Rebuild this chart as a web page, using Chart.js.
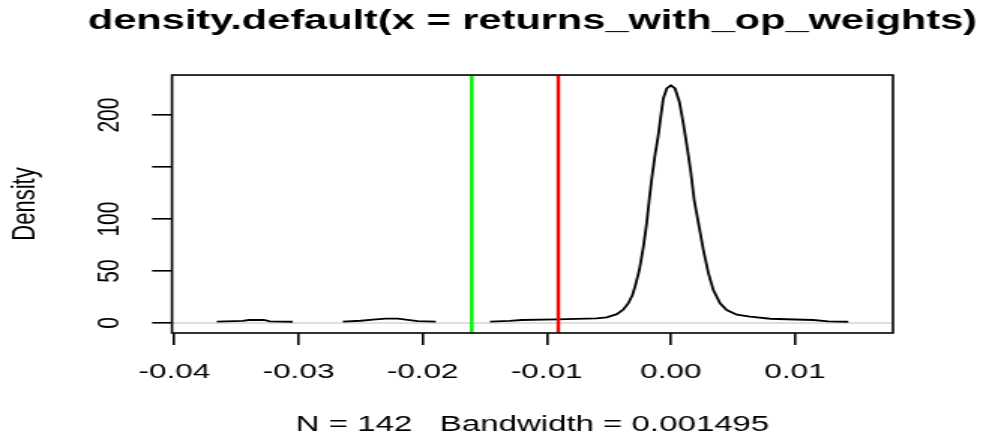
<!DOCTYPE html>
<html>
<head>
<meta charset="utf-8">
<title>density.default(x = returns_with_op_weights)</title>
<script src="https://cdn.jsdelivr.net/npm/chart.js@4"></script>
<style>
  html, body { margin: 0; padding: 0; background: #fff; }
</style>
</head>
<body>
<!-- the source image is stretched ~1.5x sideways, so the canvas is drawn narrow and widened by css -->
<canvas id="chart" width="655" height="439" style="width:983px;height:439px;display:block"></canvas>
<script>
// kernel density curve, null = gap in the drawn line
const densX = [
  -0.03658, -0.0345, -0.0340, -0.0328, -0.0323, -0.03046, -0.0285,
  -0.02643, -0.0250, -0.0240, -0.0230, -0.0220, -0.0212, -0.0204, -0.01894, -0.0168,
  -0.01457, -0.0130, -0.0120, -0.0092, -0.0060, -0.00517, -0.00436, -0.00383, -0.00343, -0.0031,
  -0.00289, -0.00254, -0.00222, -0.00195, -0.00174, -0.00154, -0.00128, -0.00101, -0.0008, -0.00061,
  -0.00033, 0, 0.00033, 0.00068, 0.001, 0.00132, 0.0016, 0.00188, 0.00222, 0.00262, 0.00302,
  0.00342, 0.00396, 0.0045, 0.00531, 0.00637, 0.008, 0.01, 0.01147, 0.01268, 0.01429
]
const densY = [
  1.3, 2.0, 2.9, 2.9, 1.6, 1.2, null,
  1.3, 2.2, 3.2, 4.2, 4.2, 3.0, 1.8, 1.3, null,
  1.3, 2.0, 2.9, 3.5, 4.5, 5.5, 8.5, 13, 19, 27,
  35, 51, 73, 96, 119, 139, 161.5, 181, 200, 216,
  225.6, 228.5, 225.6, 212.8, 192, 168, 145.5, 118, 96, 70, 48,
  31.7, 18.9, 12.5, 8.0, 6.1, 4.1, 3.4, 2.9, 1.5, 1.2
]

// the two abline(v = ...) markers
const greenLineX = -0.01604
const redLineX = -0.00907

const xTicks = [-0.04, -0.03, -0.02, -0.01, 0, 0.01]
const xTickLabels = ['-0.04', '-0.03', '-0.02', '-0.01', '0.00', '0.01']
const yTicks = [0, 50, 100, 150, 200]
const yTickLabels = ['0', '50', '100', '', '200']

const xRange = [-0.04019, 0.01789]
const yRange = [-9.6, 238.5]

const FONT = '"Liberation Sans", Arial, Helvetica, sans-serif'
Chart.defaults.font.family = FONT
Chart.defaults.color = '#000'

const rStyle = {
  id: 'rStyle',
  afterLayout(chart) {
    // R centres main title over the plot box, not the whole device
    const t = chart.titleBlock
    const a = chart.chartArea
    const mid = (a.left + a.right) / 2
    const half = Math.min(mid, chart.width - mid)
    t.left = mid - half
    t.right = mid + half
    t.width = half * 2
  },
  afterDatasetsDraw(chart) {
    const { ctx, chartArea: a } = chart
    ctx.save()
    ctx.strokeStyle = '#000'
    ctx.lineWidth = 1.6
    ctx.strokeRect(a.left, a.top, a.right - a.left, a.bottom - a.top)
    ctx.restore()
  }
}

const vline = (x, color) => ({
  data: [{ x: x, y: yRange[0] }, { x: x, y: yRange[1] }],
  borderColor: color,
  borderWidth: 2.4,
  pointRadius: 0
})

new Chart(document.getElementById('chart'), {
  type: 'line',
  data: {
    datasets: [
      vline(redLineX, '#ff0000'),
      vline(greenLineX, '#00f000'),
      {
        data: densX.map((x, i) => ({ x: x, y: densY[i] })),
        borderColor: '#000',
        borderWidth: 1.8,
        pointRadius: 0,
        tension: 0,
        spanGaps: false
      },
      {
        data: [{ x: xRange[0], y: 0 }, { x: xRange[1], y: 0 }],
        borderColor: '#bebebe',
        borderWidth: 1,
        pointRadius: 0
      }
    ]
  },
  options: {
    responsive: false,
    devicePixelRatio: 1,
    animation: false,
    layout: { padding: { left: 0, right: 60, top: 0, bottom: 0 } },
    plugins: {
      legend: { display: false },
      tooltip: { enabled: false },
      title: {
        display: true,
        text: 'density.default(x = returns_with_op_weights)',
        font: { size: 27.7, weight: 'bold' },
        color: '#000',
        padding: { top: 5, bottom: 36.8 }
      }
    },
    scales: {
      x: {
        type: 'linear',
        min: xRange[0],
        max: xRange[1],
        afterBuildTicks: s => { s.ticks = xTicks.map(v => ({ value: v })) },
        afterFit: s => { s.height = 106 },
        grid: { drawOnChartArea: false, tickLength: 12, tickColor: '#000', lineWidth: 1.6 },
        border: { display: false },
        ticks: {
          callback: (v, i) => xTickLabels[i],
          padding: 15,
          maxRotation: 0,
          autoSkip: false,
          font: { size: 21 }
        },
        title: {
          display: true,
          text: 'N = 142   Bandwidth = 0.001495',
          font: { size: 22 },
          padding: { top: 0, bottom: 1 }
        }
      },
      y: {
        type: 'linear',
        min: yRange[0],
        max: yRange[1],
        afterBuildTicks: s => { s.ticks = yTicks.map(v => ({ value: v })) },
        afterFit: s => { s.width = 114.6 },
        grid: { drawOnChartArea: false, tickLength: 13.3, tickColor: '#000', lineWidth: 1.6 },
        border: { display: false },
        ticks: {
          callback: (v, i) => yTickLabels[i],
          padding: 10.3,
          minRotation: 90,
          maxRotation: 90,
          crossAlign: 'center',
          autoSkip: false,
          font: { size: 21 }
        },
        title: {
          display: true,
          text: 'Density',
          font: { size: 22 },
          padding: { top: 4, bottom: 0 }
        }
      }
    }
  },
  plugins: [rStyle]
})
</script>
</body>
</html>
